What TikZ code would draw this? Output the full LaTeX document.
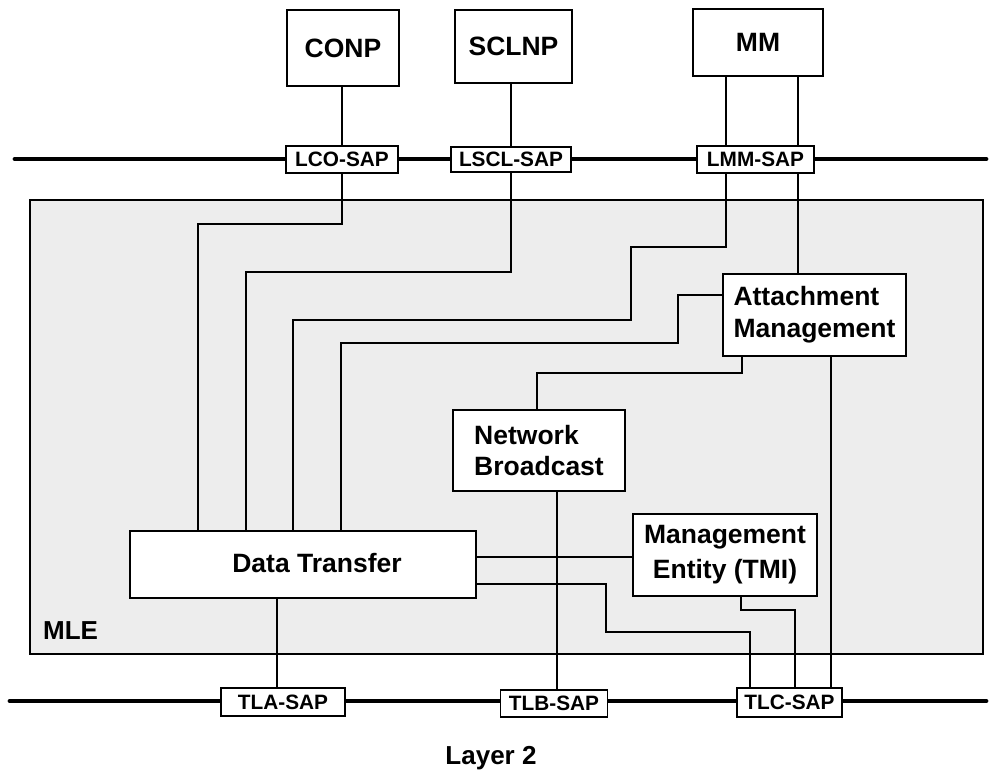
\documentclass[tikz,border=0pt]{standalone}
\usepackage{fontspec}
\setmainfont{Liberation Sans}
\pgfdeclarelayer{back}
\pgfdeclarelayer{mid}
\pgfsetlayers{back,mid,main}
\begin{document}
\begin{tikzpicture}[x=1pt,y=-1pt,
  box/.style={draw=black,line width=1.6pt,fill=white,inner sep=0pt,font=\fontsize{26.5}{32}\selectfont\bfseries},
  sapbox/.style={draw=black,line width=1.6pt,fill=white,inner sep=0pt,font=\fontsize{20.8}{24}\selectfont\bfseries},
  conn/.style={line width=1.8pt,line join=miter},
  bus/.style={line width=4.8pt,line cap=round},
  lbl/.style={font=\fontsize{26}{28}\selectfont\bfseries,inner sep=0pt}]
\useasboundingbox (0,0) rectangle (992,769);
% protocol boxes
\node[box,minimum width=112pt,minimum height=76pt] (conp) at (343,48) {CONP};
\node[box,minimum width=117pt,minimum height=73pt] (sclnp) at (513.5,46.5) {SCLNP};
\node[box,minimum width=130pt,minimum height=67pt] (mm) at (758,42.5) {MM};
% upper SAPs
\node[sapbox,minimum width=112pt,minimum height=27pt] (lco) at (342,159.5) {LCO-SAP};
\node[sapbox,minimum width=120pt,minimum height=25pt] (lscl) at (511,159.5) {LSCL-SAP};
\node[sapbox,minimum width=117pt,minimum height=27pt] (lmm) at (755.5,159.5) {LMM-SAP};
% MLE entities
\node[box,minimum width=183pt,minimum height=82pt,align=left] (am) at (814.5,315) {Attachment\\Management};
\node[box,minimum width=172pt,minimum height=81pt,align=left,font=\fontsize{26.5}{31}\selectfont\bfseries] (nb) at (539,450.5) {Network\\Broadcast};
\node[box,minimum width=346pt,minimum height=67pt] (dt) at (303,564.5) {};
\node[lbl,font=\fontsize{26.5}{30}\selectfont\bfseries] (dtl) at (317,563) {Data Transfer};
\node[box,minimum width=184pt,minimum height=82pt,align=center,font=\fontsize{26.5}{35}\selectfont\bfseries] (me) at (725,555) {Management\\Entity (TMI)};
% lower SAPs
\node[sapbox,minimum width=124pt,minimum height=28pt] (tla) at (283,702) {TLA-SAP};
\node[sapbox,minimum width=107pt,minimum height=27pt] (tlb) at (554,703.5) {TLB-SAP};
\node[sapbox,minimum width=105pt,minimum height=29pt] (tlc) at (789.5,702.5) {TLC-SAP};
% labels
\node[lbl,anchor=base west] (mlel) at (43,639) {MLE};
\node[lbl,anchor=base] (layer) at (491,764) {Layer 2};
% MLE background
\begin{pgfonlayer}{back}
\node[draw=black,line width=1.4pt,fill=black!7,minimum width=953pt,minimum height=454pt,inner sep=0pt] (mle) at (506.5,427) {};
\end{pgfonlayer}
% helper coordinates
\coordinate (tl) at (15,159);
\coordinate (tr) at (986,159);
\coordinate (bl) at (10,701);
\coordinate (br) at (986,701);
\coordinate (c1) at (198,224);
\coordinate (c2) at (246,272);
\coordinate (m1) at (726,0);
\coordinate (m2) at (798,0);
\coordinate (k1) at (631,247);
\coordinate (k2) at (293,320);
\coordinate (a1) at (0,295);
\coordinate (a4) at (678,343);
\coordinate (c4) at (341,0);
\coordinate (a2) at (742,0);
\coordinate (a3) at (537,373);
\coordinate (b1) at (557,0);
\coordinate (b2) at (831,0);
\coordinate (e1) at (0,557);
\coordinate (e2) at (0,584);
\coordinate (e4) at (606,632);
\coordinate (e3) at (750,0);
\coordinate (f1) at (741,0);
\coordinate (f2) at (795,610);
\coordinate (g1) at (277,0);
\begin{pgfonlayer}{mid}
\draw[bus] (tl) -- (tr);
\draw[bus] (bl) -- (br);
% CONP
\draw[conn] (conp.south -| lco) -- (lco.north);
\draw[conn] (lco.south) |- (c1) -- (c1 |- dt.north);
% SCLNP
\draw[conn] (sclnp.south -| lscl) -- (lscl.north);
\draw[conn] (lscl.south) |- (c2) -- (c2 |- dt.north);
% MM
\draw[conn] (mm.south -| m1) -- (lmm.north -| m1);
\draw[conn] (lmm.south -| m1) |- (k1) |- (k2) -- (k2 |- dt.north);
\draw[conn] (mm.south -| m2) -- (lmm.north -| m2);
\draw[conn] (lmm.south -| m2) -- (am.north -| m2);
% Attachment Management
\draw[conn] (am.west |- a1) -| (a4) -| (c4 |- dt.north);
\draw[conn] (am.south -| a2) |- (a3) -- (a3 |- nb.north);
\draw[conn] (am.south -| b2) -- (tlc.north -| b2);
% Network Broadcast
\draw[conn] (nb.south -| b1) -- (tlb.north -| b1);
% Data Transfer
\draw[conn] (dt.east |- e1) -- (me.west |- e1);
\draw[conn] (dt.east |- e2) -| (e4) -| (tlc.north -| e3);
\draw[conn] (dt.south -| g1) -- (tla.north -| g1);
% Management Entity
\draw[conn] (me.south -| f1) |- (f2) -- (f2 |- tlc.north);
\end{pgfonlayer}
\end{tikzpicture}
\end{document}
